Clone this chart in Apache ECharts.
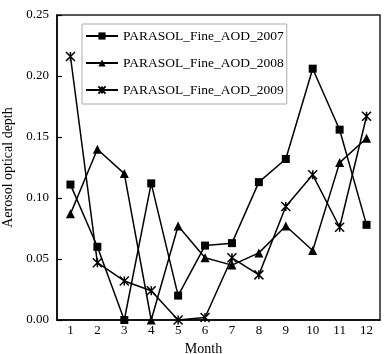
<!DOCTYPE html>
<html><head><meta charset="utf-8">
<script src="https://cdn.jsdelivr.net/npm/echarts@6/dist/echarts.min.js"></script>
<style>html,body{margin:0;padding:0;background:#fff}#c{width:391px;height:354px}</style>
</head><body><div id="c"></div>
<script>
const months = ['1','2','3','4','5','6','7','8','9','10','11','12'];
const aod2007 = [0.111,0.060,0.000,0.112,0.020,0.061,0.063,0.113,0.132,0.206,0.156,0.078];
const aod2008 = [0.087,0.140,0.120,0.000,0.077,0.051,0.045,0.055,0.077,0.057,0.129,0.149];
const aod2009 = [0.216,0.047,0.032,0.024,0.000,0.002,0.051,0.037,0.093,0.119,0.076,0.167];
const seriesNames = ['PARASOL_Fine_AOD_2007','PARASOL_Fine_AOD_2008','PARASOL_Fine_AOD_2009'];
const yTicks = [0,0.05,0.10,0.15,0.20,0.25];

const FONT = 'Liberation Serif';
const starPath = 'path://M0,0L10,10M10,0L0,10M5,0L5,10';
const chart = echarts.init(document.getElementById('c'));
chart.setOption({
  animation:false,
  backgroundColor:'#fff',
  textStyle:{fontFamily:FONT,color:'#000'},
  grid:{left:57,right:11,top:15,bottom:34,containLabel:false,outerBoundsMode:'none',
        show:true,borderColor:'#222',borderWidth:1.5,backgroundColor:'transparent'},
  legend:{
    orient:'vertical',left:82,top:24,
    padding:[5,3,7,3],itemGap:13,itemWidth:32,itemHeight:9,
    borderColor:'#aaa',borderWidth:1,
    textStyle:{fontFamily:FONT,fontSize:13.5,color:'#000'},
    data:seriesNames
  },
  xAxis:{
    type:'category',data:months,boundaryGap:true,
    name:'Month',nameLocation:'middle',nameGap:11,
    nameTextStyle:{fontFamily:FONT,fontSize:14,color:'#000',padding:[0,30,0,0]},
    axisLine:{lineStyle:{color:'#000',width:1.5}},
    axisTick:{inside:true,length:5,lineStyle:{color:'#000',width:1.2}},
    axisLabel:{fontFamily:FONT,fontSize:13,color:'#000',margin:4},
    splitLine:{show:false}
  },
  yAxis:{
    type:'value',min:yTicks[0],max:yTicks[yTicks.length-1],interval:0.05,
    name:'Aerosol optical depth',nameLocation:'middle',nameGap:35,
    nameTextStyle:{fontFamily:FONT,fontSize:14,color:'#000'},
    axisLine:{show:true,lineStyle:{color:'#000',width:1.5}},
    axisTick:{show:true,inside:true,length:5,lineStyle:{color:'#000',width:1.2}},
    axisLabel:{fontFamily:FONT,fontSize:13,color:'#000',margin:8,formatter:v=>v.toFixed(2)},
    splitLine:{show:false}
  },
  series:[
    {name:seriesNames[0],type:'line',data:aod2007,symbol:'rect',symbolSize:8,
     lineStyle:{color:'#000',width:1.5},itemStyle:{color:'#000'}},
    {name:seriesNames[1],type:'line',data:aod2008,symbol:'triangle',symbolSize:9,
     lineStyle:{color:'#000',width:1.5},itemStyle:{color:'#000'}},
    {name:seriesNames[2],type:'line',data:aod2009,symbol:starPath,symbolSize:9,
     lineStyle:{color:'#000',width:1.5},itemStyle:{color:'#000',borderColor:'#000',borderWidth:1.5}}
  ]
});
</script></body></html>
